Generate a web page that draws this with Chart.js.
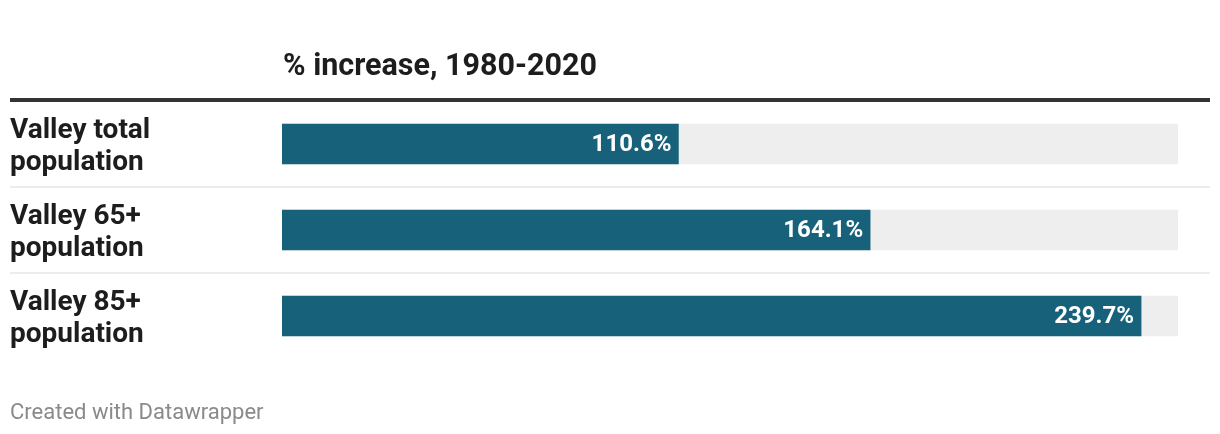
<!DOCTYPE html>
<html>
<head>
<meta charset="utf-8">
<script src="https://cdn.jsdelivr.net/npm/chart.js@4"></script>
<style>
  html, body { margin: 0; padding: 0; background: #fff; }
  #wrap { position: relative; width: 1220px; height: 434px; }
  canvas { display: block; }
</style>
</head>
<body>
<div id="wrap"><canvas id="c" width="1220" height="434"></canvas></div>
<script>
const titleText = "% increase, 1980-2020";
const footerText = "Created with Datawrapper";
const categories = [
  ["Valley total", "population"],
  ["Valley 65+", "population"],
  ["Valley 85+", "population"]
];
const increaseValues = [110.6, 164.1, 239.7];
const trackValues = [250, 250, 250];
const valueLabels = ["110.6%", "164.1%", "239.7%"];
const axisMax = 250;

const BAR = "#17617b";
const TRACK = "#eeeeee";
const TEXT = "#1d1d1d";
const FONT = "Roboto, 'Noto Sans', sans-serif";

const decorPlugin = {
  id: "decor",
  beforeDraw(chart) {
    const ctx = chart.ctx;
    const y = chart.scales.y;
    const area = chart.chartArea;
    ctx.save();
    // title
    ctx.fillStyle = TEXT;
    ctx.font = "bold 30.5px " + FONT;
    ctx.textAlign = "left";
    ctx.textBaseline = "alphabetic";
    ctx.fillText(titleText, area.left + 1, 74.5);
    // thick header rule
    ctx.fillStyle = "#333333";
    ctx.fillRect(10, 98, 1200, 4);
    // row separators between categories
    ctx.fillStyle = "#ececec";
    for (let i = 0; i < categories.length - 1; i++) {
      const mid = (y.getPixelForValue(i) + y.getPixelForValue(i + 1)) / 2;
      ctx.fillRect(10, mid - 1, 1200, 2);
    }
    // footer
    ctx.fillStyle = "#8a8a8a";
    ctx.font = "22px " + FONT;
    ctx.fillText(footerText, 10, 418.5);
    ctx.restore();
  },
  afterDatasetsDraw(chart) {
    const ctx = chart.ctx;
    const meta = chart.getDatasetMeta(0);
    ctx.save();
    ctx.fillStyle = "#ffffff";
    ctx.font = "bold 24px " + FONT;
    ctx.textAlign = "right";
    ctx.textBaseline = "middle";
    meta.data.forEach((bar, i) => {
      ctx.fillText(valueLabels[i], bar.x - 7, bar.y + 1);
    });
    ctx.restore();
  }
};

new Chart(document.getElementById("c"), {
  type: "bar",
  data: {
    labels: categories,
    datasets: [
      {
        label: "% increase",
        data: increaseValues,
        backgroundColor: BAR,
        barThickness: 40,
        grouped: false,
        order: 0
      },
      {
        label: "track",
        data: trackValues,
        backgroundColor: TRACK,
        barThickness: 40,
        grouped: false,
        order: 1
      }
    ]
  },
  options: {
    indexAxis: "y",
    responsive: false,
    animation: false,
    devicePixelRatio: 1,
    layout: { padding: { left: 10, right: 42, top: 101, bottom: 75 } },
    plugins: {
      legend: { display: false },
      title: { display: false },
      tooltip: { enabled: false }
    },
    scales: {
      x: {
        display: false,
        min: 0,
        max: axisMax
      },
      y: {
        grid: { display: false },
        border: { display: false },
        afterFit(scale) { scale.width = 272; },
        ticks: {
          crossAlign: "far",
          padding: 0,
          labelOffset: 3,
          color: TEXT,
          font: { family: FONT, size: 28, weight: "bold", lineHeight: 1.11 }
        }
      }
    }
  },
  plugins: [decorPlugin]
});
</script>
</body>
</html>
